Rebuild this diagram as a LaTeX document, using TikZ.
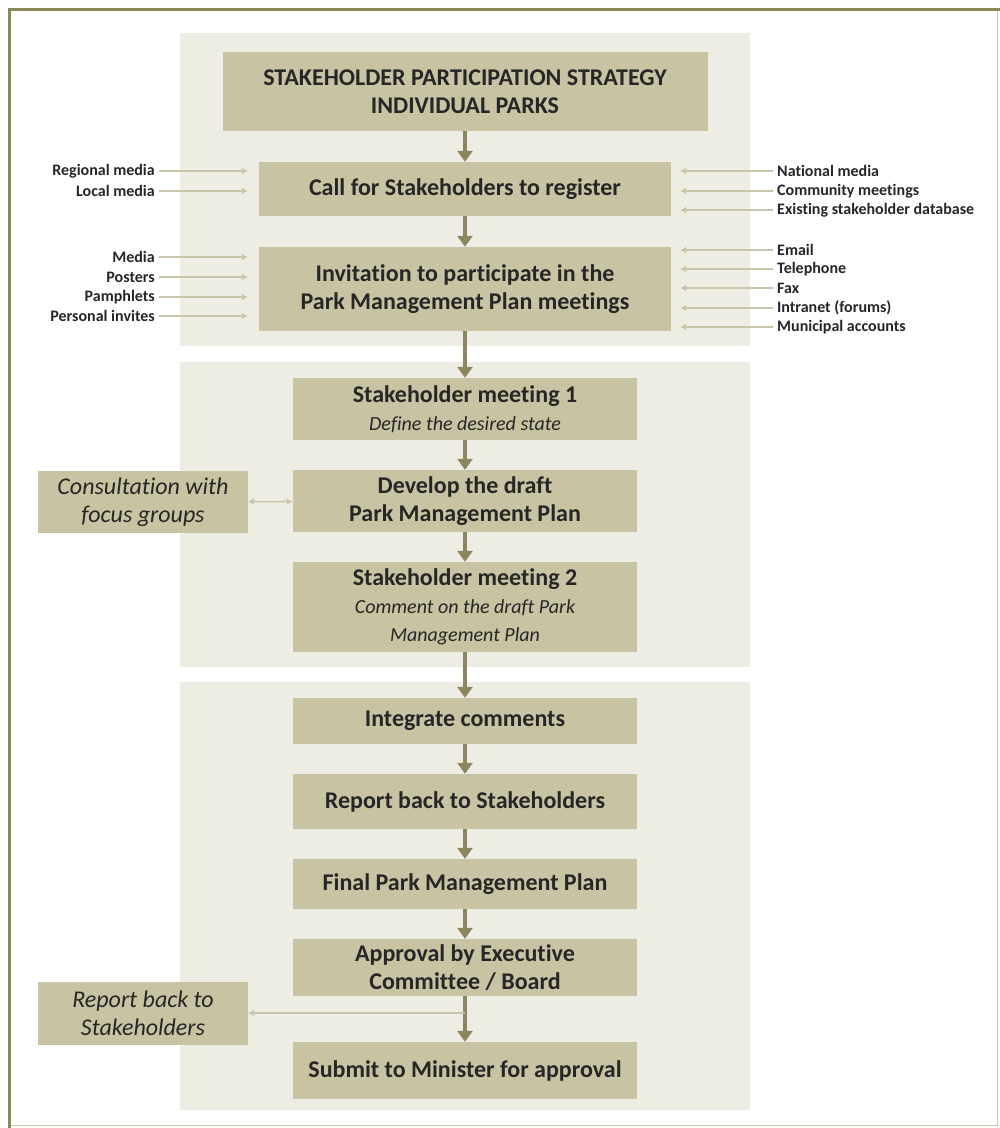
\documentclass[tikz,border=0pt]{standalone}
\usepackage{fontspec}
\setmainfont{Carlito}[RawFeature=-liga]
\usetikzlibrary{arrows.meta}

\definecolor{frameolive}{HTML}{8A8759}
\definecolor{panelbg}{HTML}{EDEDE3}
\definecolor{boxfill}{HTML}{C8C3A2}
\definecolor{flowarrow}{HTML}{8B8660}
\definecolor{feedarrow}{HTML}{C9C5AA}
\definecolor{txt}{HTML}{262626}

\newcommand{\subline}[1]{{\fontsize{20}{28}\selectfont\mdseries\itshape #1}}

\tikzset{
  stepbox/.style={fill=boxfill, text=txt, align=center, inner sep=0pt,
    minimum width=344pt, font=\fontsize{24}{28}\selectfont\bfseries},
  sidebox/.style={fill=boxfill, text=txt, align=center, inner sep=0pt,
    minimum width=210pt, font=\fontsize{24}{28}\selectfont\itshape},
  channel/.style={text=txt, inner sep=4pt, font=\fontsize{16}{19}\selectfont\bfseries},
  flow/.style={draw=flowarrow, line width=3.5pt, -{Triangle[width=15pt,length=11pt]}},
  feed/.style={draw=feedarrow, line width=1.6pt, -{Latex[width=7pt,length=6pt]}},
}

\begin{document}
\begin{tikzpicture}[x=1pt, y=-1pt]
    \useasboundingbox (0,0) rectangle (1000,1128);

    % outer frame
    \draw[feedarrow, line width=1pt] (9,9) rectangle (997,1125);
    \draw[frameolive, line width=3pt] (9,1128) -- (9,9) -- (1000,9);

    % panels
    \fill[panelbg] (180,33) rectangle (750,346);
    \fill[panelbg] (180,362) rectangle (750,667);
    \fill[panelbg] (180,682) rectangle (750,1110);

    % main steps
    \node[stepbox, minimum width=485pt, minimum height=79pt] (strategy) at (465,91.5)
        {STAKEHOLDER PARTICIPATION STRATEGY\\ INDIVIDUAL PARKS};
    \node[stepbox, minimum width=412pt, minimum height=54pt] (register) at (465,189)
        {Call for Stakeholders to register};
    \node[stepbox, minimum width=412pt, minimum height=84pt] (invite) at (465,289)
        {Invitation to participate in the\\ Park Management Plan meetings};
    \node[stepbox, minimum height=62pt] (meeting1) at (465,409)
        {Stakeholder meeting 1\\ \subline{Define the desired state}};
    \node[stepbox, minimum height=62pt] (draft) at (465,501)
        {Develop the draft\\ Park Management Plan};
    \node[stepbox, minimum height=90pt] (meeting2) at (465,607)
        {Stakeholder meeting 2\\ \subline{Comment on the draft Park}\\ \subline{Management Plan}};
    \node[stepbox, minimum height=46pt] (integrate) at (465,721)
        {Integrate comments};
    \node[stepbox, minimum height=55pt] (reportback) at (465,801.5)
        {Report back to Stakeholders};
    \node[stepbox, minimum height=50pt] (final) at (465,884)
        {Final Park Management Plan};
    \node[stepbox, minimum height=57pt] (approval) at (465,967.5)
        {Approval by Executive\\ Committee / Board};
    \node[stepbox, minimum height=57pt] (submit) at (465,1070.5)
        {Submit to Minister for approval};

    % side boxes
    \node[sidebox, minimum height=62pt] (focus) at (143,502)
        {Consultation with\\ focus groups};
    \node[sidebox, minimum height=63pt] (inform) at (143,1013.5)
        {Report back to\\ Stakeholders};

    % main flow
    \draw[flow] (strategy) -- (register);
    \draw[flow] (register) -- (invite);
    \draw[flow] (invite) -- (meeting1);
    \draw[flow] (meeting1) -- (draft);
    \draw[flow] (draft) -- (meeting2);
    \draw[flow] (meeting2) -- (integrate);
    \draw[flow] (integrate) -- (reportback);
    \draw[flow] (reportback) -- (final);
    \draw[flow] (final) -- (approval);
    \draw[flow] (approval) -- (submit);

    % consultation and feedback
    \draw[feed, {Latex[width=7pt,length=6pt]}-{Latex[width=7pt,length=6pt]}]
        (focus) -- (draft);
    \coordinate (branch) at (465,1013);
    \draw[feed] (branch) -- (inform.east |- branch);

    % channels for registration
    \node[channel, anchor=east] (regional) at (159,171) {Regional media};
    \node[channel, anchor=east] (local) at (159,191) {Local media};
    \node[channel, anchor=west] (national) at (773,171) {National media};
    \node[channel, anchor=west] (community) at (773,191) {Community meetings};
    \node[channel, anchor=west] (database) at (773,210) {Existing stakeholder database};

    % channels for invitations
    \node[channel, anchor=east] (media) at (159,257) {Media};
    \node[channel, anchor=east] (posters) at (159,277) {Posters};
    \node[channel, anchor=east] (pamphlets) at (159,297) {Pamphlets};
    \node[channel, anchor=east] (personal) at (159,316) {Personal invites};
    \node[channel, anchor=west] (email) at (773,250) {Email};
    \node[channel, anchor=west] (telephone) at (773,269) {Telephone};
    \node[channel, anchor=west] (fax) at (773,288) {Fax};
    \node[channel, anchor=west] (intranet) at (773,308) {Intranet (forums)};
    \node[channel, anchor=west] (municipal) at (773,327) {Municipal accounts};

    \draw[feed, shorten >=11pt] (regional) -- (register.west |- regional);
    \draw[feed, shorten >=11pt] (local) -- (register.west |- local);
    \draw[feed, shorten >=9pt] (national) -- (register.east |- national);
    \draw[feed, shorten >=9pt] (community) -- (register.east |- community);
    \draw[feed, shorten >=9pt] (database) -- (register.east |- database);

    \draw[feed, shorten >=11pt] (media) -- (invite.west |- media);
    \draw[feed, shorten >=11pt] (posters) -- (invite.west |- posters);
    \draw[feed, shorten >=11pt] (pamphlets) -- (invite.west |- pamphlets);
    \draw[feed, shorten >=11pt] (personal) -- (invite.west |- personal);
    \draw[feed, shorten >=9pt] (email) -- (invite.east |- email);
    \draw[feed, shorten >=9pt] (telephone) -- (invite.east |- telephone);
    \draw[feed, shorten >=9pt] (fax) -- (invite.east |- fax);
    \draw[feed, shorten >=9pt] (intranet) -- (invite.east |- intranet);
    \draw[feed, shorten >=9pt] (municipal) -- (invite.east |- municipal);
\end{tikzpicture}
\end{document}
